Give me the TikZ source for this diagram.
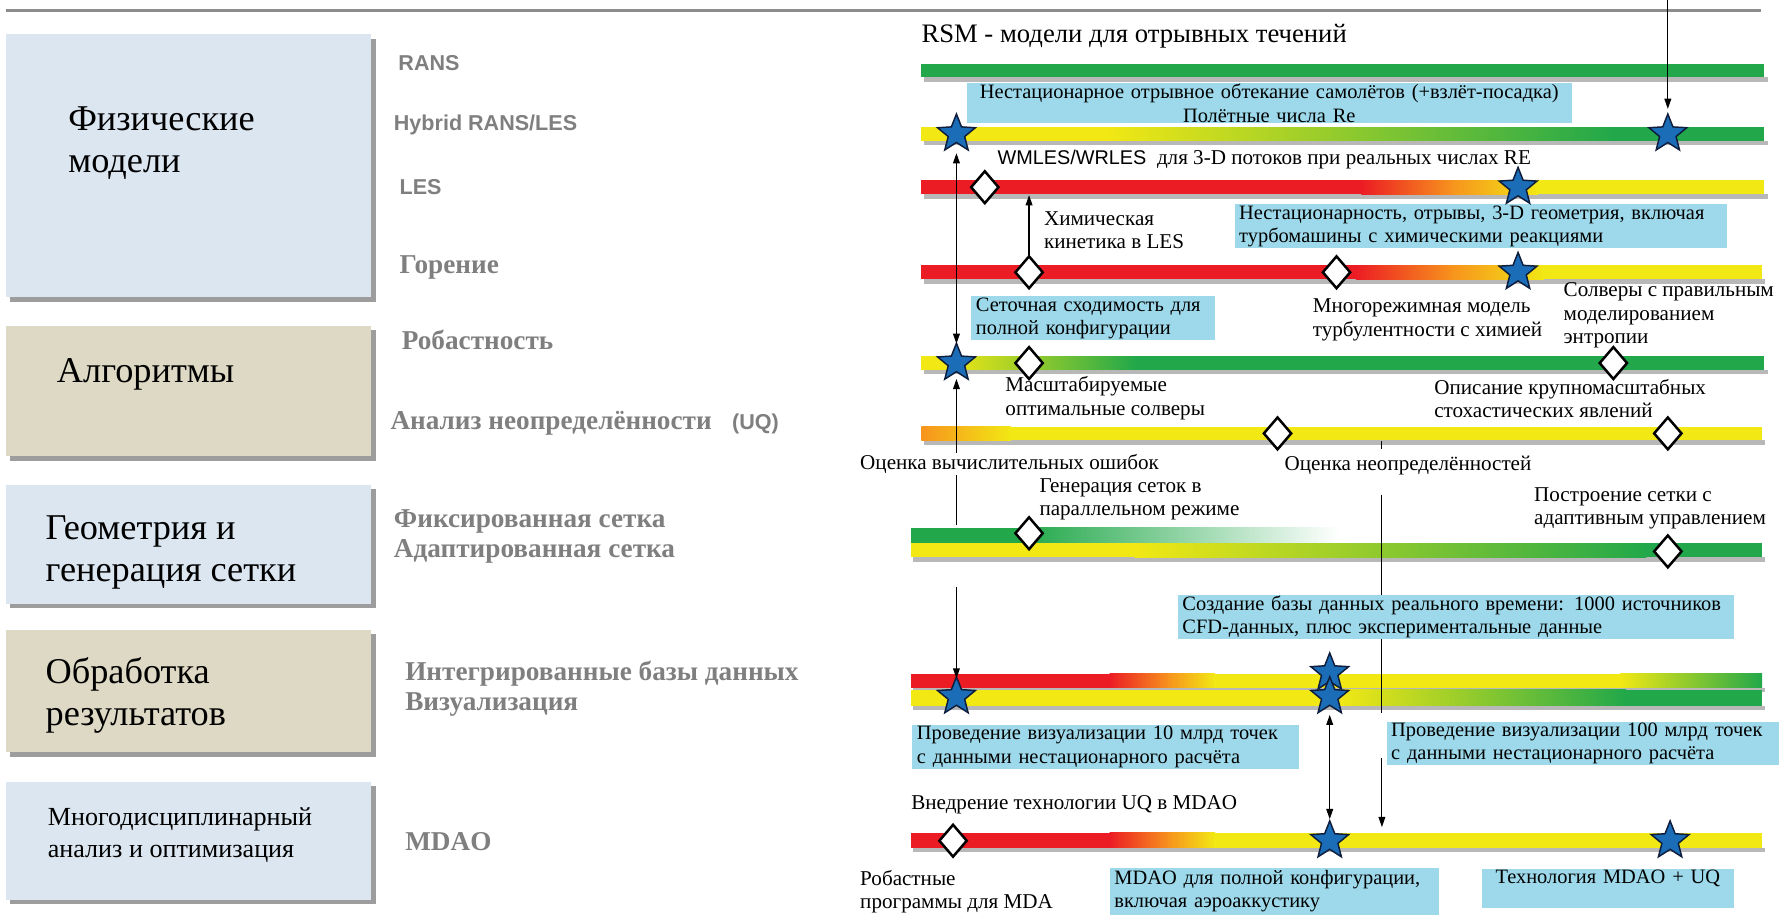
\documentclass[tikz,border=0pt]{standalone}
\usepackage{fontspec}
\setmainfont{Liberation Serif}
\setsansfont{Liberation Sans}
\usepackage{tikz}
\usetikzlibrary{arrows.meta,shapes.geometric,shadows}
\definecolor{boxblue}{HTML}{DCE6F1}
\definecolor{boxtan}{HTML}{DDD9C4}
\definecolor{callout}{HTML}{9DD9EA}
\definecolor{rmgreen}{HTML}{22A84A}
\definecolor{rmyellow}{HTML}{F2E814}
\definecolor{rmred}{HTML}{EC1C24}
\definecolor{rmorange}{HTML}{F7941D}
\definecolor{starblue}{HTML}{1B6DB8}
\definecolor{starline}{HTML}{0E1E3C}
\definecolor{labelgray}{HTML}{7F7F7F}

\begin{document}
\begin{tikzpicture}[x=1pt,y=-1pt,
    catbox/.style={anchor=north west,inner sep=0pt,
      drop shadow={shadow xshift=4pt,shadow yshift=-4pt,fill=black!55,opacity=.7}},
    cattitle/.style={anchor=west,align=left,inner sep=0pt,font=\fontsize{32}{37}\selectfont},
    rowlbl/.style={anchor=west,align=left,inner sep=0pt,text=labelgray,font=\fontsize{24}{27}\selectfont\bfseries},
    rowsans/.style={rowlbl,font=\fontsize{19}{22}\selectfont\sffamily\bfseries},
    note/.style={anchor=west,align=left,inner sep=0pt,font=\fontsize{18.6}{20.5}\selectfont},
    callbox/.style={note,anchor=north west,fill=callout,inner xsep=4pt,inner ysep=1pt,
      font=\fontsize{18}{20.5}\selectfont},
    barshadow/.style={fill=black!28},
    mstar/.style={star,star points=5,star point ratio=2.3,minimum size=35pt,inner sep=0pt,
      fill=starblue,draw=starline,line width=1.3pt},
    mdiam/.style={diamond,minimum width=25pt,minimum height=29pt,inner sep=0pt,
      fill=white,draw=black,line width=2.2pt},
    arr/.style={line width=1pt,-{Triangle[length=9pt,width=6pt]}},
    arrtwo/.style={line width=1pt,{Triangle[length=9pt,width=6pt]}-{Triangle[length=9pt,width=6pt]}}]
  \useasboundingbox (0,0) rectangle (1568,806);
  % top rule
  \draw[line width=2.5pt,black!45] (5,9) -- (1552,9);

  % category boxes
  \node[catbox,fill=boxblue,minimum width=322pt,minimum height=232pt] (physbox) at (5,30) {};
  \node[catbox,fill=boxtan,minimum width=322pt,minimum height=115pt] (algbox) at (5,287) {};
  \node[catbox,fill=boxblue,minimum width=322pt,minimum height=105pt] (geobox) at (5,427) {};
  \node[catbox,fill=boxtan,minimum width=322pt,minimum height=108pt] (postbox) at (5,555) {};
  \node[catbox,fill=boxblue,minimum width=322pt,minimum height=104pt] (mdobox) at (5,689) {};
  \node[cattitle] (physlbl) at (60,126) {Физические\\модели};
  \node[cattitle] (alglbl) at (50,330) {Алгоритмы};
  \node[cattitle] (geolbl) at (40,487) {Геометрия и\\генерация сетки};
  \node[cattitle] (postlbl) at (40,613) {Обработка\\результатов};
  \node[cattitle,font=\fontsize{23}{28}\selectfont] (mdolbl) at (42,736) {Многодисциплинарный\\анализ и оптимизация};

  % row labels
  \node[rowsans] (ransl) at (351,56) {RANS};
  \node[rowsans] (hybl) at (347,110) {Hybrid RANS/LES};
  \node[rowsans] (lesl) at (352,165) {LES};
  \node[rowlbl] (combl) at (352,236) {Горение};
  \node[rowlbl] (robl) at (354,300) {Робастность};
  \node[rowlbl] (uql) at (344,373) {Анализ неопределённости\hspace{18pt}{\sffamily\fontsize{19}{22}\selectfont(UQ)}};
  \node[rowlbl] (gridl) at (347,473) {Фиксированная сетка\\Адаптированная сетка};
  \node[rowlbl] (datal) at (357,607) {Интегрированные базы данных\\Визуализация};
  \node[rowlbl] (mdaol) at (357,742) {MDAO};

  % bar shadows
  \foreach \xa/\xb/\ya in {812/1555/68,812/1555/124,812/1555/171,812/1553/246,812/1555/326,
      812/1553/388,803/1553/491,803/1553/606,803/1553/622,803/1553/747}
    \fill[barshadow] (\xa+2,\ya) rectangle (\xb+3,\ya+4);

  % RANS
  \fill[rmgreen] (812,56) rectangle (1555,68);
  % hybrid
  \fill[rmyellow] (812,112) rectangle (976,124);
  \shade[left color=rmyellow,right color=rmgreen] (975,112) rectangle (1421,124);
  \fill[rmgreen] (1420,112) rectangle (1555,124);
  % LES
  \fill[rmred] (812,159) rectangle (1201,171);
  \shade[left color=rmred,right color=rmorange] (1200,159) rectangle (1281,171);
  \shade[left color=rmorange,right color=rmyellow] (1280,159) rectangle (1356,171);
  \fill[rmyellow] (1355,159) rectangle (1555,171);
  % combustion
  \fill[rmred] (812,234) rectangle (1196,246);
  \shade[left color=rmred,right color=rmorange] (1195,234) rectangle (1281,246);
  \shade[left color=rmorange,right color=rmyellow] (1280,234) rectangle (1361,246);
  \fill[rmyellow] (1360,234) rectangle (1553,246);
  % robustness
  \fill[rmyellow] (812,314) rectangle (836,326);
  \shade[left color=rmyellow,right color=rmgreen] (835,314) rectangle (1001,326);
  \fill[rmgreen] (1000,314) rectangle (1555,326);
  % UQ
  \shade[left color=rmorange,right color=rmyellow] (812,376) rectangle (891,388);
  \fill[rmyellow] (890,376) rectangle (1553,388);
  % grids
  \fill[rmgreen] (803,465) rectangle (901,479);
  \shade[left color=rmgreen,right color=white] (900,465) rectangle (1180,479);
  \fill[rmyellow] (803,479) rectangle (1001,491);
  \shade[left color=rmyellow,right color=rmgreen] (1000,479) rectangle (1451,491);
  \fill[rmgreen] (1450,479) rectangle (1553,491);
  % databases
  \fill[rmred] (803,594) rectangle (979,606);
  \shade[left color=rmred,right color=rmorange] (978,594) rectangle (1031,606);
  \shade[left color=rmorange,right color=rmyellow] (1030,594) rectangle (1071,606);
  \fill[rmyellow] (1070,594) rectangle (1429,606);
  \shade[left color=rmyellow,right color=rmgreen] (1428,594) rectangle (1553,606);
  % visualisation
  \fill[rmyellow] (803,608) rectangle (1181,622);
  \shade[left color=rmyellow,right color=rmgreen] (1180,608) rectangle (1433,622);
  \fill[rmgreen] (1432,608) rectangle (1553,622);
  % MDAO
  \fill[rmred] (803,734) rectangle (979,747);
  \shade[left color=rmred,right color=rmorange] (978,734) rectangle (1031,747);
  \shade[left color=rmorange,right color=rmyellow] (1030,734) rectangle (1071,747);
  \fill[rmyellow] (1070,734) rectangle (1553,747);

  % vertical lines behind the callouts
  \coordinate (errfoot) at (843,463);
  \coordinate (uqtickA) at (1218,389);
  \coordinate (uqtickB) at (1218,396);
  \coordinate (uqlineA) at (1218,436);
  \coordinate (uqlineB) at (1218,628);
  \coordinate (uqlineC) at (1218,668);
  \coordinate (mdaoentry) at (1218,729);
  \draw[line width=1pt] (uqtickA) -- (uqtickB);
  \draw[line width=1pt] (uqlineA) -- (uqlineB);
  \draw[arr] (uqlineC) -- (mdaoentry);

  % callouts
  \node[callbox,text width=525pt,align=center] (unsteady) at (852,73)
    {Нестационарное отрывное обтекание самолётов (+взлёт-посадка)\\Полётные числа Re};
  \node[callbox,text width=426pt] (turbo) at (1088,180)
    {Нестационарность, отрывы, 3-D геометрия, включая\\турбомашины с химическими реакциями};
  \node[callbox,text width=207pt] (gridconv) at (856,261) {Сеточная сходимость для\\полной конфигурации};
  \node[callbox,text width=482pt] (realdb) at (1038,524)
    {Создание базы данных реального времени: 1000 источников\\CFD-данных, плюс экспериментальные данные};
  \node[callbox,text width=333pt] (vis10) at (804,639)
    {Проведение визуализации 10 млрд точек\\с данными нестационарного расчёта};
  \node[callbox,text width=338pt] (vis100) at (1222,636)
    {Проведение визуализации 100 млрд точек\\с данными нестационарного расчёта};
  \node[callbox,text width=282pt,minimum height=41pt] (fullcfg) at (978,765)
    {MDAO для полной конфигурации,\\включая аэроаккустику};
  \node[callbox,text width=214pt,text depth=20pt] (mdaouq) at (1306,766)
    {\hspace*{8pt}Технология MDAO + UQ};

  % milestones
  \node[mstar] (hybstarA) at (843,118) {};
  \node[mstar] (hybstarB) at (1470,118) {};
  \node[mdiam] (lesdiam) at (868,165) {};
  \node[mstar] (lesstar) at (1338,165) {};
  \node[mdiam] (combdiamA) at (907,240) {};
  \node[mdiam] (combdiamB) at (1178,240) {};
  \node[mstar] (combstar) at (1338,240) {};
  \node[mstar] (robstar) at (843,320) {};
  \node[mdiam] (robdiamA) at (907,320) {};
  \node[mdiam] (robdiamB) at (1422,320) {};
  \node[mdiam] (uqdiamA) at (1126,382) {};
  \node[mdiam] (uqdiamB) at (1470,382) {};
  \node[mdiam] (griddiamA) at (907,470) {};
  \node[mdiam] (griddiamB) at (1470,486) {};
  \node[mstar] (visstarA) at (843,614) {};
  \node[mstar] (visstarB) at (1172,593) {};
  \node[mstar] (visstarC) at (1172,614) {};
  \node[mdiam] (mdaodiam) at (840,741) {};
  \node[mstar] (mdaostarA) at (1172,741) {};
  \node[mstar] (mdaostarB) at (1472,741) {};

  % links
  \coordinate (topentry) at (1470,0);
  \coordinate (lesbottom) at (907,172);
  \coordinate (vislead) at (843,517);
  \draw[arr,shorten >=22pt] (topentry) -- (hybstarB.center);
  \draw[arrtwo,shorten <=17pt,shorten >=17pt] (hybstarA.center) -- (robstar.center);
  \draw[arr] (combdiamA) -- (lesbottom);
  \draw[arr,shorten >=14pt] (errfoot) -- (robstar.center);
  \draw[arr,shorten >=16pt] (vislead) -- (visstarA.center);
  \draw[arrtwo,shorten <=16pt,shorten >=19pt] (visstarC.center) -- (mdaostarA.center);

  % plain texts
  \node[note,font=\fontsize{23.5}{27}\selectfont] (rsmtitle) at (812,32) {RSM - модели для отрывных течений};
  \node[note] (wmles) at (879,141) {{\sffamily\fontsize{17.5}{20}\selectfont WMLES/WRLES}\ \ для 3-D потоков при реальных числах RE};
  \node[note] (chemkin) at (920,203) {Химическая\\кинетика в LES};
  \node[note] (multimode) at (1157,282) {Многорежимная модель\\турбулентности с химией};
  \node[note] (entropy) at (1378,278) {Солверы с правильным\\моделированием\\энтропии};
  \node[note] (scalable) at (886,351) {Масштабируемые\\оптимальные солверы};
  \node[note] (stoch) at (1264,351) {Описание крупномасштабных\\стохастических явлений};
  \node[note,fill=white,inner sep=1pt] (errest) at (757,409) {Оценка вычислительных ошибок};
  \node[note] (uqest) at (1132,410) {Оценка неопределённостей};
  \node[note] (pargrid) at (916,440) {Генерация сеток в\\параллельном режиме};
  \node[note] (adaptgrid) at (1352,448) {Построение сетки с\\адаптивным управлением};
  \node[note] (uqmdao) at (803,709) {Внедрение технологии UQ в MDAO};
  \node[note] (robmda) at (758,786) {Робастные\\программы для MDA};
\end{tikzpicture}
\end{document}
